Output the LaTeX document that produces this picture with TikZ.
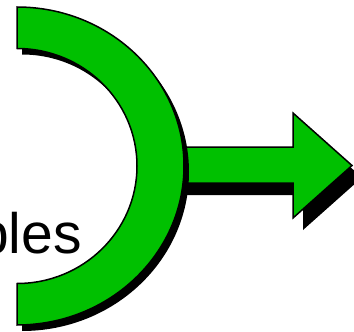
\documentclass[tikz,border=0pt]{standalone}
\usepackage{fontspec}
\setmainfont{Liberation Sans}
\definecolor{arcgreen}{RGB}{0,192,0}
\begin{document}
\begin{tikzpicture}[x=1pt,y=-1pt,
  shapefill/.style={fill=arcgreen,draw=black,line width=1.5pt,line join=miter},
  shadowfill/.style={fill=black,draw=none}]
\useasboundingbox (0,0) rectangle (354,332);
\clip (0,0) rectangle (354,332);
% text (cut off at the left edge, as in the reference)
\node[anchor=base east,inner sep=0pt,font=\fontsize{57}{60}\selectfont] (word) at (82,253) {bles};
% arrow
\def\arrowpath{(140,147) -- (293,147) -- (293,113) -- (352,165.5) -- (293,218) -- (293,183) -- (140,183) -- cycle}
\fill[shadowfill,shift={(10,12)}] \arrowpath;
\path[shapefill] \arrowpath;
% arc band
\def\arcpath{(17,7) arc[start angle=90,end angle=-90,x radius=167pt,y radius=159pt] -- (17,283.5) arc[start angle=-90,end angle=90,x radius=120pt,y radius=117.5pt] -- cycle}
\fill[shadowfill,shift={(5,6)}] \arcpath;
\path[shapefill] \arcpath;
\end{tikzpicture}
\end{document}
